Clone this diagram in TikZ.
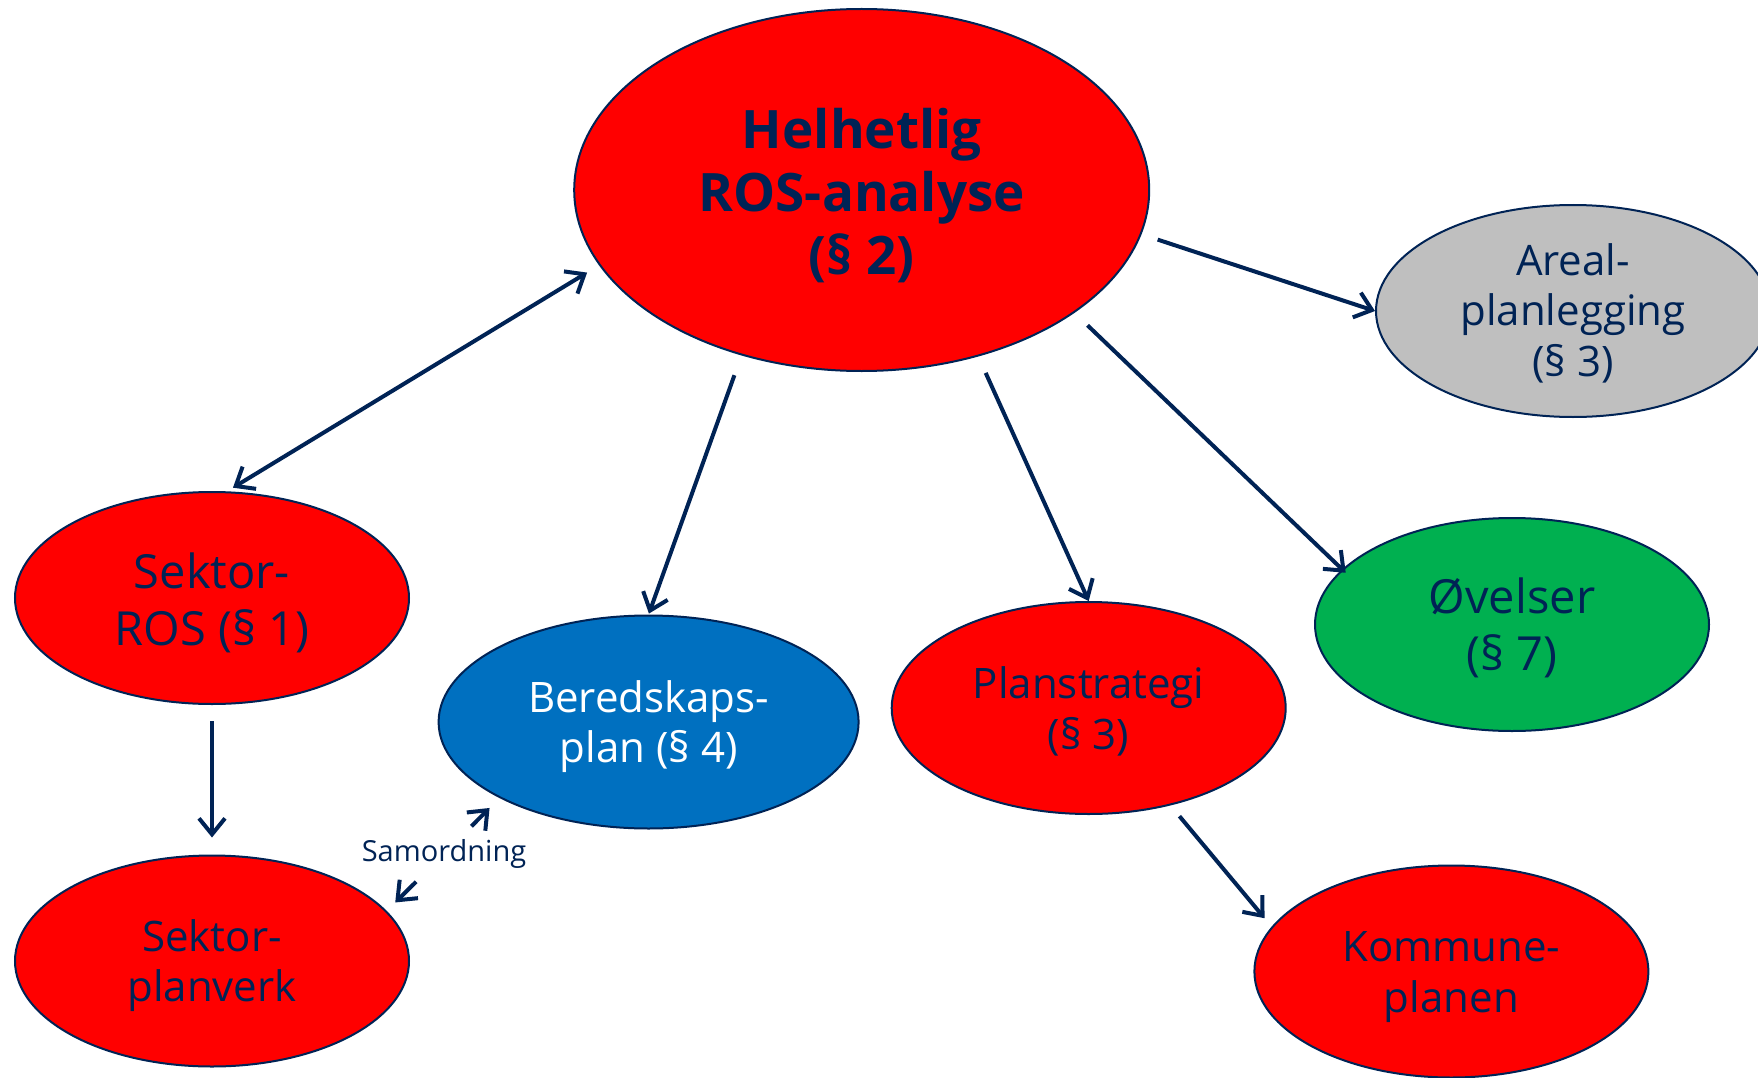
\documentclass[tikz,border=0pt]{standalone}
\usepackage{fontspec}
\setmainfont{Open Sans}
\usetikzlibrary{arrows.meta,shapes.geometric}
\definecolor{navy}{RGB}{0,35,85}
\definecolor{cred}{RGB}{255,0,0}
\definecolor{cgrey}{RGB}{191,191,191}
\definecolor{cblue}{RGB}{0,112,192}
\definecolor{cgreen}{RGB}{0,176,80}
\newcommand\mystrut[1]{\rule{0pt}{#1em}}
\begin{document}
\begin{tikzpicture}[x=1pt,y=-1pt,
  ell/.style={ellipse, draw=navy, line width=2pt, inner sep=0pt, align=center, text=navy},
  txt/.style={font=\fontsize{42}{50.5}\selectfont},
  txtL/.style={font=\fontsize{47}{57}\selectfont},
  arr/.style={draw=navy, line width=4pt, -{Straight Barb[length=16pt,width=26pt]}},
  darr/.style={draw=navy, line width=4pt, {Straight Barb[length=16pt,width=26pt]}-{Straight Barb[length=16pt,width=26pt]}}]
\useasboundingbox (0,0) rectangle (1758,1078);
\clip (0,0) rectangle (1758,1078);
\fill[white] (0,0) rectangle (1758,1078);

\node[ell, fill=cred, minimum width=575pt, minimum height=362pt, font=\fontsize{53}{63}\selectfont\bfseries] (hros) at (861.7,190) {\mystrut{0.98}Helhetlig\\ROS-analyse\\(§ 2)};
\node[ell, fill=cgrey, minimum width=394pt, minimum height=212pt, txt] (areal) at (1573,311) {\mystrut{0.87}Areal-\\planlegging\\(§ 3)};
\node[ell, fill=cred, minimum width=394pt, minimum height=212pt, txtL] (sros) at (212,598) {\mystrut{0.96}Sektor-\\ROS (§ 1)};
\node[ell, fill=cblue, minimum width=420pt, minimum height=213pt, txt, text=white] (bered) at (648.6,722) {\mystrut{0.98}Beredskaps-\\plan (§ 4)};
\node[ell, fill=cred, minimum width=394pt, minimum height=212pt, txt] (plan) at (1088.7,708) {\mystrut{0.92}Planstrategi\\(§ 3)};
\node[ell, fill=cgreen, minimum width=394pt, minimum height=213pt, txtL] (ovel) at (1512,624.5) {\mystrut{0.92}Øvelser\\(§ 7)};
\node[ell, fill=cred, minimum width=394pt, minimum height=211pt, txt] (spv) at (212,961) {\mystrut{0.98}Sektor-\\planverk};
\node[ell, fill=cred, minimum width=394pt, minimum height=212pt, txt] (komm) at (1451.4,971.5) {\mystrut{0.98}Kommune-\\planen};

\draw[darr, shorten <=7pt, shorten >=14pt] (sros.82.1) -- (hros.196.8);
\draw[arr, shorten <=21pt, shorten >=1pt] (hros.234.3) -- (bered.90);
\draw[arr, shorten <=18pt] (hros.305.7) -- (plan.90.6);
\draw[arr, shorten <=18pt, shorten >=-5pt] (hros.330.2) -- (ovel.162.8);
\draw[arr, shorten <=17pt] (hros.351) -- (areal.180);
\draw[arr, shorten <=16pt, shorten >=17pt] (sros.south) -- (spv.north);
\draw[arr, shorten <=14pt, shorten >=11pt] (plan.310.3) -- (komm.166.4);

\node[text=navy, font=\fontsize{29}{35}\selectfont, minimum height=55pt, minimum width=100pt, inner sep=0pt] (samo) at (444,854) {Samordning};
\draw[arr, shorten >=14pt] (samo) -- (bered.207.6);
\draw[arr, shorten >=12pt] (samo) -- (spv.16.6);
\end{tikzpicture}
\end{document}
